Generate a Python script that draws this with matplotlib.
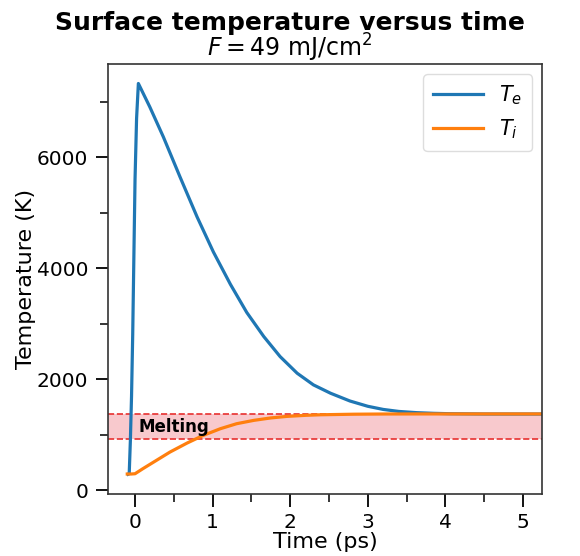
#!/usr/bin/env python3
"""Surface electron/ion temperature versus time with the melting band."""

from matplotlib import pyplot as plt
from matplotlib.ticker import MultipleLocator

# electron temperature (K)
te_time = [-0.09, -0.075, -0.06, -0.045, -0.03, -0.015, 0.0, 0.02, 0.043,
           0.19, 0.365, 0.58, 0.80, 1.01, 1.23, 1.44, 1.66, 1.87, 2.09,
           2.30, 2.52, 2.77, 3.0, 3.2, 3.4, 3.63, 3.85, 4.06, 4.5, 5.3]
te_temp = [290, 300, 900, 1700, 2800, 4200, 5600, 6700, 7328,
           6907, 6366, 5645, 4925, 4294, 3710, 3205, 2770, 2410, 2110,
           1900, 1750, 1610, 1515, 1458, 1422, 1400, 1388, 1381, 1376, 1375]

# ion (lattice) temperature (K)
ti_time = [-0.1, -0.05, 0.0, 0.1, 0.24, 0.45, 0.67, 0.88, 1.10, 1.31,
           1.53, 1.75, 1.96, 2.2, 2.39, 2.82, 3.25, 3.68, 4.5, 5.3]
ti_temp = [295, 295, 300, 390, 510, 690, 852, 991, 1111, 1201,
           1261, 1305, 1333, 1352, 1362, 1372, 1376, 1377, 1377, 1377]

melt_low = 930
melt_high = 1370

plt.rcParams["font.family"] = "DejaVu Sans"
plt.rcParams["mathtext.fontset"] = "dejavusans"

fig, ax = plt.subplots(figsize=(5.8, 5.56), dpi=100)
fig.subplots_adjust(left=0.186, right=0.935, top=0.885, bottom=0.112)

ax.plot(te_time, te_temp, color="#1f77b4", lw=2.3, label="$T_e$")
ax.plot(ti_time, ti_temp, color="#ff7f0e", lw=2.3, label="$T_i$")

ax.axhspan(melt_low, melt_high, color="#f4a6ad", alpha=0.6, lw=0, zorder=0)
ax.axhline(melt_low, color="#e8302f", ls="--", lw=1.2, zorder=1)
ax.axhline(melt_high, color="#e8302f", ls="--", lw=1.2, zorder=1)
ax.text(0.04, 1140, "Melting", fontsize=12, fontweight="bold",
        va="center", ha="left")

ax.set_xlim(-0.35, 5.25)
ax.set_ylim(-60, 7680)
ax.xaxis.set_major_locator(MultipleLocator(1))
ax.xaxis.set_minor_locator(MultipleLocator(0.5))
ax.yaxis.set_major_locator(MultipleLocator(2000))
ax.yaxis.set_minor_locator(MultipleLocator(1000))
ax.tick_params(which="major", length=9, width=1.3, labelsize=14.5, pad=5)
ax.tick_params(which="minor", length=6, width=1.1)
for spine in ax.spines.values():
    spine.set_linewidth(1.2)
    spine.set_color("#333333")

ax.set_xlabel("Time (ps)", fontsize=16, labelpad=0)
ax.set_ylabel("Temperature (K)", fontsize=16, labelpad=1)

leg = ax.legend(loc="upper right", fontsize=15, handlelength=2.4,
                framealpha=1, edgecolor="#dddddd", borderpad=0.45)

fig.text(0.5, 0.958, "Surface temperature versus time", ha="center",
         va="center", fontsize=18, fontweight="bold")
fig.text(0.5, 0.913, r"$F = 49$ mJ/cm$^2$", ha="center", va="center",
         fontsize=17)

fig.savefig("out.png")
